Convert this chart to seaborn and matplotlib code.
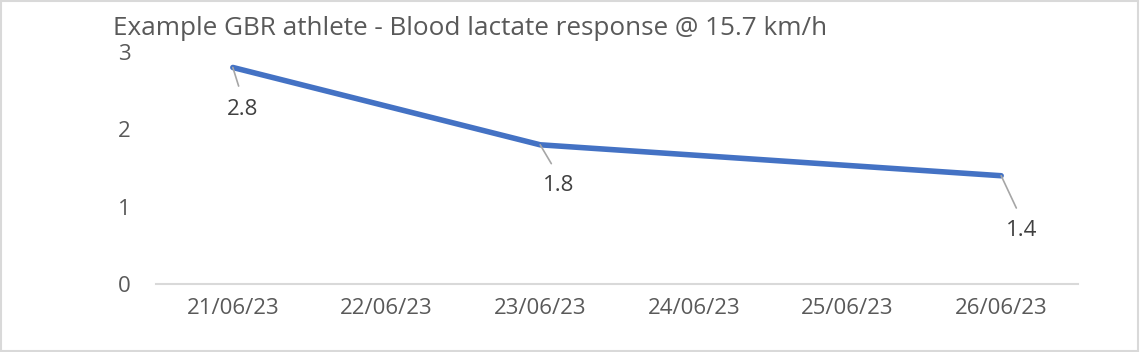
import pandas as pd
import seaborn as sns
import matplotlib.pyplot as plt
import matplotlib.dates as mdates
from matplotlib.patches import Rectangle

# Chart data
title = 'Example GBR athlete - Blood lactate response @ 15.7 km/h'
axis_dates = ['2023-06-21', '2023-06-22', '2023-06-23', '2023-06-24', '2023-06-25', '2023-06-26']
test_dates = ['2023-06-21', '2023-06-23', '2023-06-26']
lactate = [2.8, 1.8, 1.4]
y_ticks = [0, 1, 2, 3]

# label centre offsets (points) for the data labels, right/down from the point
label_offsets = [(7, -30), (13, -29.5), (15, -39.5)]

df = pd.DataFrame({'date': pd.to_datetime(test_dates), 'lactate': lactate})
ticks = pd.to_datetime(axis_dates)

sns.set_style('white')
plt.rcParams['font.family'] = ['Open Sans', 'DejaVu Sans']

fig = plt.figure(figsize=(11.4, 3.52), dpi=100)
ax = fig.add_axes([156 / 1140, 1 - 284 / 352, (1078 - 156) / 1140, (284 - 52) / 352])

sns.lineplot(data=df, x='date', y='lactate', ax=ax, color='#4472C4',
             linewidth=4, solid_capstyle='round', solid_joinstyle='round')

half_day = pd.Timedelta(hours=12)
ax.set_xlim(ticks[0] - half_day, ticks[-1] + half_day)
ax.set_ylim(0, 3)
ax.set_xticks(ticks)
ax.xaxis.set_major_formatter(mdates.DateFormatter('%d/%m/%y'))
ax.set_yticks(y_ticks)
ax.set_xlabel('')
ax.set_ylabel('')

ax.tick_params(axis='x', length=0, pad=10, labelsize=16, labelcolor='#595959')
ax.tick_params(axis='y', length=0, pad=18, labelsize=16, labelcolor='#595959')

for side in ['top', 'left', 'right']:
    ax.spines[side].set_visible(False)
ax.spines['bottom'].set_color('#d9d9d9')
ax.spines['bottom'].set_linewidth(1.5)

for (d, v), (dx, dy) in zip(zip(df['date'], df['lactate']), label_offsets):
    ax.annotate(f'{v:.1f}', xy=(d, v), xytext=(dx, dy), textcoords='offset points',
                ha='center', va='center', fontsize=16, color='#404040',
                arrowprops=dict(arrowstyle='-', color='#a6a6a6', lw=1.2,
                                relpos=(0.5, 1), shrinkA=7, shrinkB=0))

fig.text(113 / 1140, 1 - 35 / 352, title, ha='left', va='baseline',
         fontsize=18.8, color='#595959')

# light grey chart border
fig.patches.append(Rectangle((0.001, 0.004), 0.997, 0.992, transform=fig.transFigure,
                             fill=False, edgecolor='#d9d9d9', linewidth=1.5))

fig.savefig('out.png', dpi=100)
